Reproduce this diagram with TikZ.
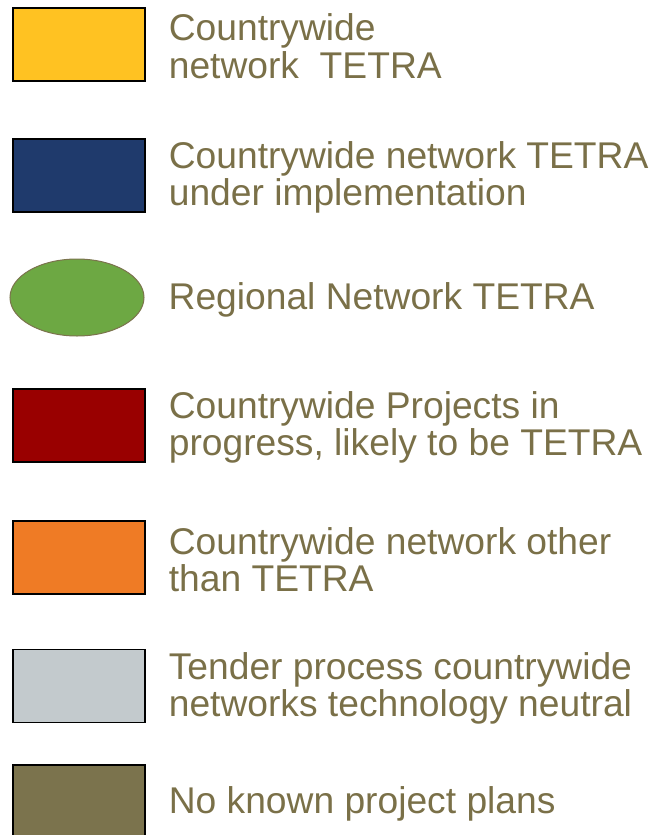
\documentclass[tikz,border=0pt]{standalone}
\usepackage{fontspec}
\setmainfont{Liberation Sans}
\usetikzlibrary{positioning,shapes.geometric}
\definecolor{legtext}{HTML}{7A7048}
\definecolor{tetrayellow}{HTML}{FFC222}
\definecolor{tetrablue}{HTML}{1F3A6C}
\definecolor{regiongreen}{HTML}{6DA843}
\definecolor{progressred}{HTML}{990000}
\definecolor{otherorange}{HTML}{EF7B25}
\definecolor{tendergray}{HTML}{C3CACD}
\definecolor{noplanolive}{HTML}{7B734D}

\begin{document}
\begin{tikzpicture}[x=1pt,y=1pt,node distance=23pt]
				\tikzstyle{legbox}=[draw=black,line width=1.3pt,minimum width=132pt,minimum height=73pt,inner sep=0pt]
				\tikzstyle{legtxt}=[text=legtext,align=left,inner sep=0pt,yshift=-2pt,font=\fontsize{37.2}{37}\selectfont]
				\useasboundingbox (0,0) rectangle (653,-835);
				% legend entries
				\node[legbox,fill=tetrayellow] (yellow) at (79,-44.5) {};
				\node[legtxt,right=of yellow] (yellowtxt) {Countrywide\\[1pt]network\ \ TETRA};
				\node[legbox,fill=tetrablue] (blue) at (79,-175.5) {};
				\node[legtxt,right=of blue] (bluetxt) {Countrywide network TETRA\\under implementation};
				\node[ellipse,draw=noplanolive,line width=1pt,fill=regiongreen,minimum width=134pt,minimum height=77pt,inner sep=0pt] (green) at (77,-297.5) {};
				\node[legtxt,right=24pt of green] (greentxt) {Regional Network TETRA};
				\node[legbox,fill=progressred] (red) at (79,-425.5) {};
				\node[legtxt,right=of red] (redtxt) {Countrywide Projects in\\progress, likely to be TETRA};
				\node[legbox,fill=otherorange] (orange) at (79,-557.5) {};
				\node[legtxt,right=of orange] (orangetxt) {Countrywide network other\\than TETRA};
				\node[legbox,fill=tendergray] (gray) at (79,-686) {};
				\node[legtxt,right=of gray] (graytxt) {Tender process countrywide\\networks technology neutral};
				\node[legbox,fill=noplanolive] (olive) at (79,-801.5) {};
				\node[legtxt,right=of olive] (olivetxt) {No known project plans};
\end{tikzpicture}
\end{document}
